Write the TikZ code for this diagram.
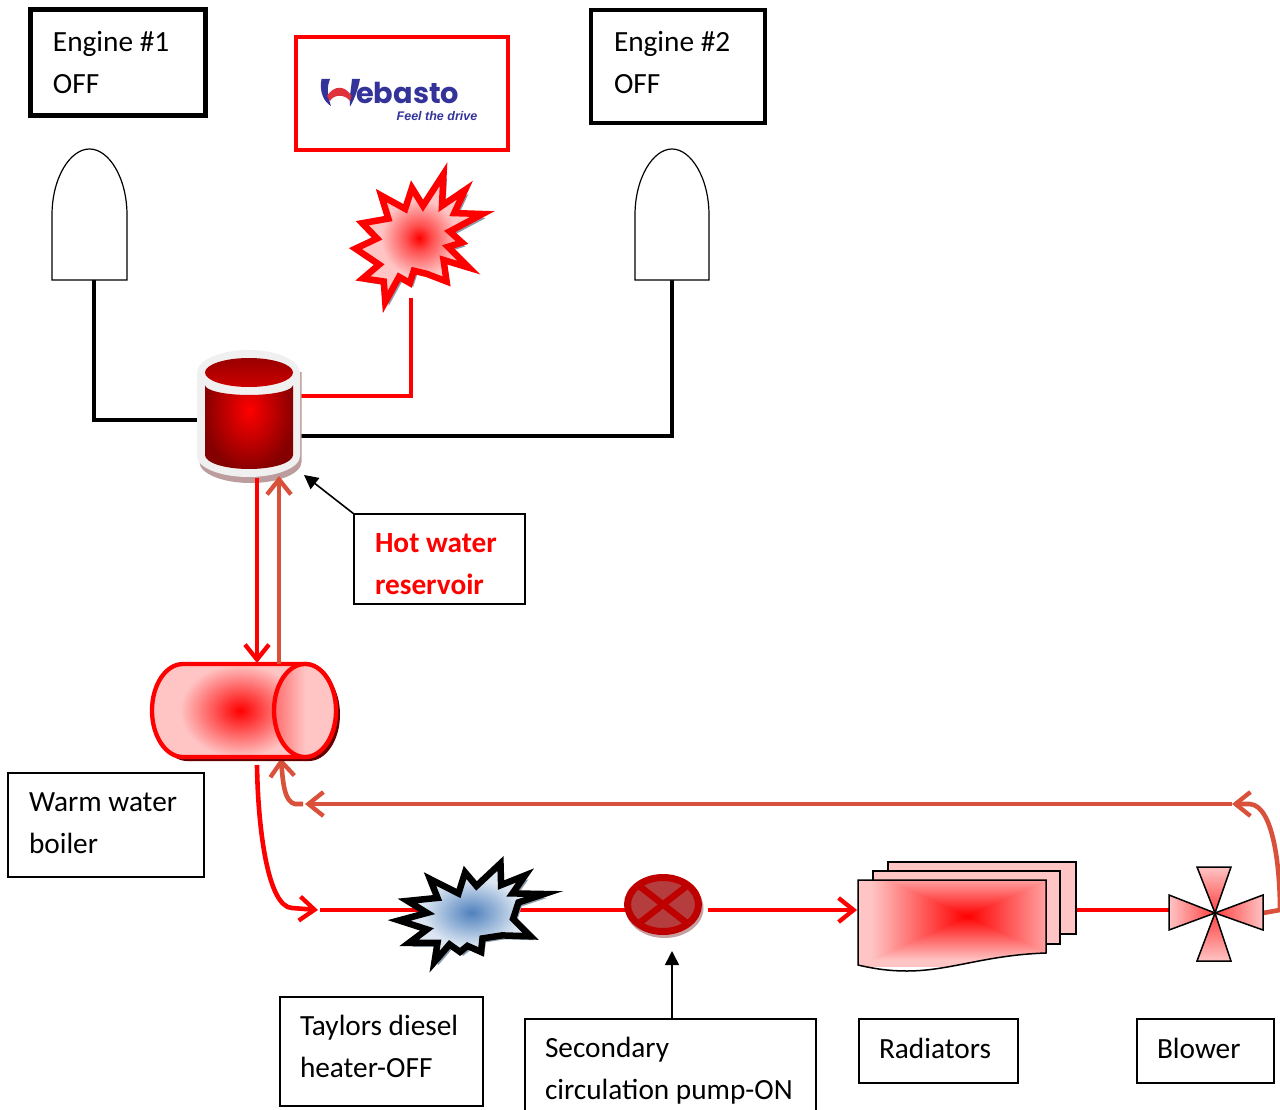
\documentclass[tikz,border=0pt]{standalone}
\usepackage{fontspec}
\setmainfont{Carlito}
\newfontfamily\logofont{Poppins}
\newfontfamily\tagfont{Liberation Sans}
\usetikzlibrary{arrows.meta,calc}
\definecolor{hotred}{HTML}{FF0000}
\definecolor{retorange}{HTML}{D9513A}
\definecolor{softpink}{HTML}{FFC4C4}
\definecolor{logoblue}{HTML}{333399}
\definecolor{logored}{HTML}{E0323C}
\definecolor{starshade}{HTML}{8A9BAB}
\definecolor{burnblue}{HTML}{4F81BD}
\definecolor{paleblue}{HTML}{DCE6F2}
\pgfdeclarefunctionalshading{rectred}{\pgfpointorigin}{\pgfpoint{100bp}{100bp}}{}{%
 50 sub abs 22 div exch 50 sub abs 22 div 2 copy lt {exch} if pop
 dup 1 gt {pop 1} if 0.77 mul dup 1 3 1 roll}
\pgfdeclareradialshading{starred}{\pgfpointorigin}{color(0bp)=(hotred); color(5bp)=(hotred!60!softpink); color(15bp)=(softpink); color(50bp)=(softpink!80!white)}
\pgfdeclareradialshading{starblue}{\pgfpointorigin}{color(0bp)=(burnblue); color(6bp)=(burnblue!65!paleblue); color(17bp)=(paleblue); color(50bp)=(paleblue!80!white)}
\newcommand{\boxtxt}[5]{\parbox[c][#2pt][t]{#1pt}{\vspace*{#3pt}\leftskip=#4pt\parindent=0pt\baselineskip=42pt\relax #5\par}}
\tikzset{
 x=1pt,y=-1pt,
 lbl/.style={draw=black,line width=1.6pt,inner sep=0pt,outer sep=0pt,anchor=north west,font=\fontsize{29.3}{42}\selectfont,fill=white},
 hdr/.style={lbl,line width=5pt},
 engine/.style={draw=black,line width=1.2pt,fill=white},
 hotpipe/.style={draw=hotred,line width=4.6pt},
 retpipe/.style={draw=retorange,line width=4.6pt},
 coldpipe/.style={draw=black,line width=4.6pt},
 openhead/.style={-{Straight Barb[length=15pt,width=24pt,line width=4.3pt]}},
 thinarrow/.style={draw=black,line width=1.6pt,-{Triangle[length=14pt,width=14pt]}},
 redstar/.style={draw=hotred,line width=6.5pt,miter limit=10,shading=starred},
 bluestar/.style={draw=black,line width=6.5pt,miter limit=10,shading=starblue},
 starshadow/.style={fill=starshade},
 sheet/.style={draw=black,line width=1.5pt,fill=softpink},
 blade/.style={draw=black,line width=1.5pt},
}
\begin{document}
\begin{tikzpicture}
\clip (0,0) rectangle (1280,1110);
\fill[white] (0,0) rectangle (1280,1110);
% named anchors for the connectors
\coordinate (e1b) at (94,280);
\coordinate (e2b) at (672,280);
\coordinate (e1j) at (94,420);
\coordinate (e2j) at (672,436);
\coordinate (rL) at (197,420);
\coordinate (rR) at (300,436);
\coordinate (rR2) at (300,396);
\coordinate (wj) at (411,396);
\coordinate (wb) at (411,298);
\coordinate (rB1) at (257,478);
\coordinate (rB2) at (279,476);
\coordinate (bT1) at (257,663);
\coordinate (bT2) at (279,664);
\coordinate (bO) at (257,765);
\coordinate (bI) at (281,758);
\coordinate (hA) at (318,910);
\coordinate (hB) at (320,910);
\coordinate (pL) at (628,910);
\coordinate (pR) at (708,910);
\coordinate (radL) at (857,910);
\coordinate (radR) at (1076,910);
\coordinate (blL) at (1169,910);
\coordinate (blR) at (1263,913);
\coordinate (edge) at (1280,910);
\coordinate (retA) at (1232,804);
\coordinate (retB) at (305,804);
% return line and blower outlet
\draw[retpipe] (blR) -- (edge);
\draw[retpipe,openhead] (edge) .. controls (1280,870) and (1274,806) .. (1250,804) -- (retA);
\draw[retpipe,openhead] (retA) -- (retB);
\draw[retpipe,openhead] (303,804) -- (295,804) .. controls (285,802) and (283,785) .. (bI);
% black pipes
\draw[coldpipe] (e1b) -- (e1j) -- (rL);
\draw[coldpipe] (e2b) -- (e2j) -- (rR);
\draw[hotpipe] (rR2) -- (wj) -- (wb);
% boiler to heater
\draw[hotpipe,openhead] (bO) .. controls (258,830) and (268,907) .. (292,908) -- (hA);
\draw[hotpipe] (hB) -- (pL);
\draw[hotpipe,openhead] (pR) -- (radL);
\draw[hotpipe] (radR) -- (blL);
% engines
\path[engine] (52,280) -- (52,215) .. controls (52,178) and (70,149) .. (89.5,149) .. controls (109,149) and (127,178) .. (127,215) -- (127,280) -- cycle;
\path[engine] (635,280) -- (635,215) .. controls (635,178) and (653,149) .. (672,149) .. controls (691,149) and (709,178) .. (709,215) -- (709,280) -- cycle;
% labelled boxes
\node[hdr] (eng1) at (30,10) {\boxtxt{175}{106}{21}{23}{Engine \#1\\OFF}};
\node[hdr,line width=4pt] (eng2) at (591,10) {\boxtxt{174}{113}{21}{23}{Engine \#2\\OFF}};
\node[lbl,draw=hotred,line width=4pt,minimum width=212pt,minimum height=113pt] (webasto) at (296,37) {};
\node[lbl] (hot) at (354,514) {\boxtxt{171}{90}{19}{21}{\textbf{\textcolor{hotred}{Hot water\\reservoir}}}};
\node[lbl] (warm) at (8,773) {\boxtxt{196}{104}{20}{21}{Warm water\\boiler}};
\node[lbl] (taylors) at (280,997) {\boxtxt{203}{109}{18}{20}{Taylors diesel\\heater-OFF}};
\node[lbl] (pumpl) at (525,1019) {\boxtxt{291}{115}{18}{20}{Secondary\\circulation pump-ON}};
\node[lbl] (radl) at (859,1019) {\boxtxt{159}{64}{19}{20}{Radiators}};
\node[lbl] (blowl) at (1137,1019) {\boxtxt{137}{64}{19}{20}{Blower}};
% Webasto logo
\fill[logoblue] (321.5,79) -- (330,79) .. controls (327,86) and (327,94) .. (331,106) .. controls (324,102) and (319,92) .. (321.5,79) -- cycle;
\fill[logoblue] (360,79) -- (352,79) .. controls (351,90) and (349,98) .. (350,106.5) .. controls (354,100) and (358,90) .. (360,79) -- cycle;
\fill[logored] (327,96) .. controls (334,85) and (345,85) .. (351.5,96) -- (350,101) .. controls (345,94) and (334,94) .. (330,101) -- cycle;
\node[inner sep=0pt,anchor=base west,text=logoblue,font=\logofont\bfseries\fontsize{28.8}{30}\selectfont] (logotext) at (356,103.5) {ebasto};
\node[inner sep=0pt,anchor=base west,text=logoblue,font=\tagfont\bfseries\itshape\fontsize{12.5}{13}\selectfont] (tagline) at (396.5,121) {Feel the drive};
% Webasto burner
\begin{scope}[shift={(419,237)},scale=0.3333*0.92,shift={(-415,-650)}]
\fill[starshadow,xshift=11pt,yshift=-13pt] (495,445)--(490,548)--(565,497)--(530,572)--(622,575)--(515,632)--(555,668)--(510,682)--(578,750)--(495,725)--(505,795)--(440,770)--(398,760)--(385,800)--(350,780)--(305,862)--(300,795)--(232,785)--(285,740)--(208,688)--(278,655)--(230,605)--(315,590)--(292,515)--(370,558)--(392,490)--(428,548)--cycle;
\path[redstar] (495,445)--(490,548)--(565,497)--(530,572)--(622,575)--(515,632)--(555,668)--(510,682)--(578,750)--(495,725)--(505,795)--(440,770)--(398,760)--(385,800)--(350,780)--(305,862)--(300,795)--(232,785)--(285,740)--(208,688)--(278,655)--(230,605)--(315,590)--(292,515)--(370,558)--(392,490)--(428,548)--cycle;
\end{scope}
% Taylors heater
\begin{scope}[shift={(475,912)},scale=0.3333*0.9,shift={(-285,-212)}]
\fill[starshadow,xshift=11pt,yshift=-13pt] (370,50)--(372,122)--(452,90)--(410,150)--(515,152)--(430,180)--(412,235)--(470,293)--(375,290)--(310,300)--(305,345)--(260,325)--(235,345)--(200,320)--(150,378)--(160,315)--(65,315)--(125,270)--(32,240)--(125,215)--(60,175)--(160,165)--(135,102)--(230,150)--(252,80)--(290,125)--cycle;
\path[bluestar] (370,50)--(372,122)--(452,90)--(410,150)--(515,152)--(430,180)--(412,235)--(470,293)--(375,290)--(310,300)--(305,345)--(260,325)--(235,345)--(200,320)--(150,378)--(160,315)--(65,315)--(125,270)--(32,240)--(125,215)--(60,175)--(160,165)--(135,102)--(230,150)--(252,80)--(290,125)--cycle;
\end{scope}
% hot water reservoir
\fill[black!30!red!30!gray!60] (199.5,372) -- (199.5,462) arc[start angle=180,end angle=0,x radius=51,y radius=21] -- (301.5,372) -- cycle;
\fill[black!6] (197,373) arc[start angle=180,end angle=360,x radius=51.5,y radius=23] -- (300,456) arc[start angle=0,end angle=180,x radius=51.5,y radius=21] -- cycle;
\begin{scope}
\clip (205,385) arc[start angle=180,end angle=0,x radius=44,y radius=10] -- (293,455) arc[start angle=0,end angle=180,x radius=44,y radius=14] -- cycle;
\path[inner color=hotred,outer color=red!52!black] (203,348) rectangle (295,472);
\end{scope}
\path[top color=red!60!black,bottom color=red!80!black] (249,372.5) ellipse[x radius=44,y radius=14.5];
% boiler
\fill[red!40!black] (187,668) -- (309,668) arc[start angle=-90,end angle=90,x radius=31,y radius=46.5] -- (187,761) arc[start angle=90,end angle=270,x radius=31,y radius=46.5] -- cycle;
\begin{scope}
\clip (183,664) -- (305,664) arc[start angle=-90,end angle=90,x radius=31,y radius=46.5] -- (183,757) arc[start angle=90,end angle=270,x radius=31,y radius=46.5] -- cycle;
\fill[softpink] (150,660) rectangle (340,760);
\path[inner color=hotred,outer color=softpink] (180,664) rectangle (300,757);
\end{scope}
\draw[hotred,line width=4.3pt] (183,664) -- (305,664) arc[start angle=-90,end angle=90,x radius=31,y radius=46.5] -- (183,757) arc[start angle=90,end angle=270,x radius=31,y radius=46.5] -- cycle;
\path[draw=hotred,line width=4.3pt,left color=hotred!45!softpink,right color=softpink,middle color=softpink] (305,710.5) ellipse[x radius=31,y radius=46.5];
% pump
\fill[black!25!red!35!gray!55] (664.5,908) ellipse[x radius=39,y radius=30];
\draw[draw=red!75!black,fill=red!50!gray!95!black,line width=7pt] (663,904.5) ellipse[x radius=35.5,y radius=27];
\begin{scope}
\clip (663,904.5) ellipse[x radius=35.5,y radius=27];
\draw[red!75!black,line width=6.5pt] (638,885) -- (688,924);
\draw[red!75!black,line width=6.5pt] (688,885) -- (638,924);
\end{scope}
% radiators
\path[sheet] (888,862) rectangle (1076,934);
\path[sheet] (873,871) rectangle (1060,944);
\begin{scope}
\clip (858,880) -- (1046,880) -- (1046,953) .. controls (985,955) and (950,971) .. (907,971) .. controls (890,971) and (875,969) .. (858,965) -- cycle;
\path[shading=rectred] (858,866) rectangle (1076,966);
\end{scope}
\draw[black,line width=1.5pt] (858,880) -- (1046,880) -- (1046,953) .. controls (985,955) and (950,971) .. (907,971) .. controls (890,971) and (875,969) .. (858,965) -- cycle;
% blower
\path[blade,top color=softpink,bottom color=hotred!75] (1197,867) -- (1231,867) -- (1215,913) -- cycle;
\path[blade,top color=hotred!75,bottom color=softpink] (1197,961) -- (1231,961) -- (1215,913) -- cycle;
\path[blade,left color=softpink,right color=hotred!75] (1169,895) -- (1169,930) -- (1215,913) -- cycle;
\path[blade,left color=hotred!75,right color=softpink] (1263,895) -- (1263,930) -- (1215,913) -- cycle;
% arrows over the vessels
\draw[hotpipe,openhead] (rB1) -- (bT1);
\draw[retpipe,openhead] (bT2) -- (rB2);
% callouts
\draw[thinarrow] (hot.north west) -- (304,475);
\draw[thinarrow] (pumpl.north -| 672,0) -- (672,951);
\end{tikzpicture}
\end{document}
